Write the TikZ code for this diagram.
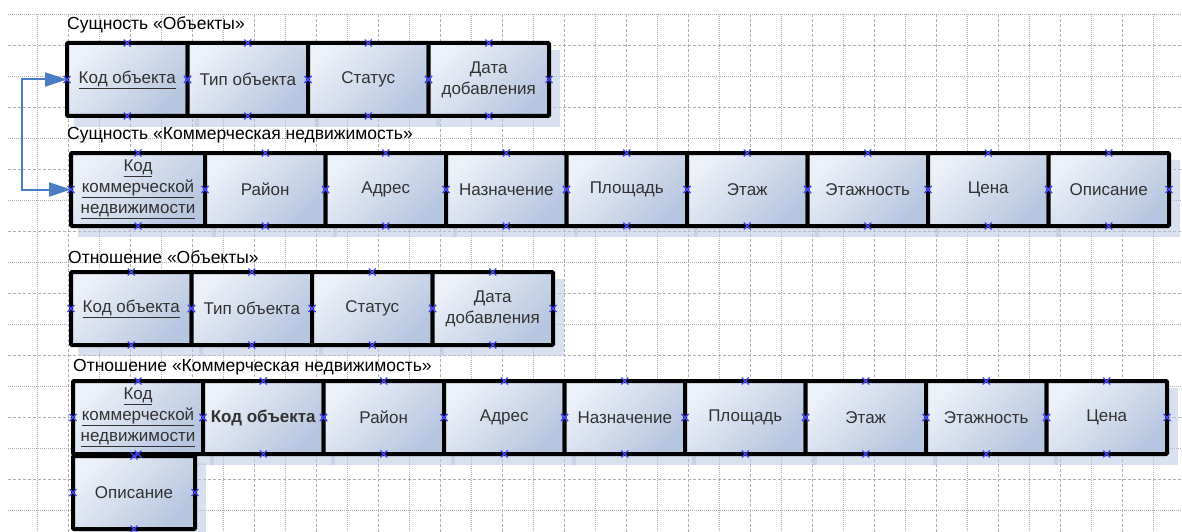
\documentclass[tikz,border=0pt]{standalone}
\usepackage{fontspec}
\setmainfont{Liberation Sans}
\usetikzlibrary{positioning,backgrounds,arrows.meta}
\definecolor{cellhi}{RGB}{236,240,248}
\definecolor{celllo}{RGB}{182,198,224}
\definecolor{shadowblue}{RGB}{186,201,228}
\definecolor{gridgray}{RGB}{175,175,175}
\definecolor{linkblue}{RGB}{74,126,196}
\definecolor{cpblue}{RGB}{70,70,255}
\definecolor{celltext}{RGB}{50,50,50}
\newcommand{\cellnames}{objkey,objtype,objstatus,objdate,
  cmkey,cmdistrict,cmaddr,cmpurpose,cmarea,cmfloor,cmfloors,cmprice,cmdesc,
  robjkey,robjtype,robjstatus,robjdate,
  rcmkey,rcmobj,rcmdistrict,rcmaddr,rcmpurpose,rcmarea,rcmfloor,rcmfloors,rcmprice,rcmdesc}
\tikzset{
  % Specifications for style of nodes:
  base/.style = {
    rectangle,
    draw=black,
    line width=4pt,
    rounded corners=1pt,
    outer sep=0pt,
    inner sep=1pt,
    align=center
  },
  cell/.style = {
    base,
    minimum width=120.5pt,
    minimum height=73pt,
    node distance=0pt,
    top color=cellhi,
    bottom color=celllo,
    shading angle=45,
    text=celltext,
    font=\fontsize{17}{21}\selectfont
  },
  title/.style = {
    anchor=west,
    inner sep=0pt,
    font=\fontsize{17.5}{21}\selectfont
  },
  cellshadow/.style = {fill=shadowblue, fill opacity=0.55},
  griddot/.style = {gridgray, line width=0.8pt, dash pattern=on 1pt off 1pt},
  griddash/.style = {gridgray, line width=0.8pt, dash pattern=on 3pt off 2pt},
  cpmark/.style = {cpblue, line width=1.3pt},
  link/.style = {
    linkblue,
    line width=2pt,
    arrows={Triangle[length=22pt,width=14pt]-Triangle[length=22pt,width=14pt]}
  },
}

\begin{document}
\begin{tikzpicture}[x=1pt, y=-1pt]
    \useasboundingbox (0,0) rectangle (1182,532);
    % Entity "Objects"
    \node[title] (objtitle) at (67,25) {Сущность «Объекты»};
    \node[cell, anchor=north west] (objkey) at (67,43) {\underline{Код объекта}};
    \node[cell, right=of objkey]    (objtype)   {Тип объекта};
    \node[cell, right=of objtype]   (objstatus) {Статус};
    \node[cell, right=of objstatus] (objdate)   {Дата\\добавления};
    % Entity "Commercial property"
    \node[title] (cmtitle) at (67,135) {Сущность «Коммерческая недвижимость»};
    \node[cell, minimum width=134pt, anchor=north west] (cmkey) at (71,153)
      {\underline{Код}\\\underline{коммерческой}\\\underline{недвижимости}};
    \node[cell, right=of cmkey]      (cmdistrict) {Район};
    \node[cell, right=of cmdistrict] (cmaddr)     {Адрес};
    \node[cell, right=of cmaddr]     (cmpurpose)  {Назначение};
    \node[cell, right=of cmpurpose]  (cmarea)     {Площадь};
    \node[cell, right=of cmarea]     (cmfloor)    {Этаж};
    \node[cell, right=of cmfloor]    (cmfloors)   {Этажность};
    \node[cell, right=of cmfloors]   (cmprice)    {Цена};
    \node[cell, right=of cmprice]    (cmdesc)     {Описание};
    % Relation "Objects"
    \node[title] (robjtitle) at (68,257) {Отношение «Объекты»};
    \node[cell, anchor=north west] (robjkey) at (71,272) {\underline{Код объекта}};
    \node[cell, right=of robjkey]    (robjtype)   {Тип объекта};
    \node[cell, right=of robjtype]   (robjstatus) {Статус};
    \node[cell, right=of robjstatus] (robjdate)   {Дата\\добавления};
    % Relation "Commercial property"
    \node[title] (rcmtitle) at (73,367) {Отношение «Коммерческая недвижимость»};
    \node[cell, minimum width=130pt, anchor=north west] (rcmkey) at (73,381)
      {\underline{Код}\\\underline{коммерческой}\\\underline{недвижимости}};
    \node[cell, right=of rcmkey]      (rcmobj)      {\textbf{Код объекта}};
    \node[cell, right=of rcmobj]      (rcmdistrict) {Район};
    \node[cell, right=of rcmdistrict] (rcmaddr)     {Адрес};
    \node[cell, right=of rcmaddr]     (rcmpurpose)  {Назначение};
    \node[cell, right=of rcmpurpose]  (rcmarea)     {Площадь};
    \node[cell, right=of rcmarea]     (rcmfloor)    {Этаж};
    \node[cell, right=of rcmfloor]    (rcmfloors)   {Этажность};
    \node[cell, right=of rcmfloors]   (rcmprice)    {Цена};
    \node[cell, minimum width=122pt, anchor=north west] (rcmdesc)
      at ([yshift=-2pt]rcmkey.south west) {Описание};
    % Key link
    \draw[link] (cmkey.west) -- ++(-49,0) |- (objkey.west);
    % Connection points
    \foreach \c in \cellnames
      \foreach \a in {north,south,east,west}
        \draw[cpmark] (\c.\a) +(-3.5,-3.5) -- +(3.5,3.5) +(-3.5,3.5) -- +(3.5,-3.5);
    % Grid and shadows
    \begin{scope}[on background layer]
      \fill[white] (0,0) rectangle (1182,532);
      \foreach \gx in {37,99,...,1153} \draw[griddot] (\gx,14) -- (\gx,532);
      \foreach \gx in {68,130,...,1122} \draw[griddash] (\gx,14) -- (\gx,532);
      \foreach \gy in {14,76,...,510} \draw[griddot] (8,\gy) -- (1182,\gy);
      \foreach \gy in {45,107,...,479} \draw[griddash] (8,\gy) -- (1182,\gy);
      \foreach \c in \cellnames
        \fill[cellshadow] ([shift={(7,7)}]\c.north west) rectangle ([shift={(11,11)}]\c.south east);
    \end{scope}
\end{tikzpicture}
\end{document}
